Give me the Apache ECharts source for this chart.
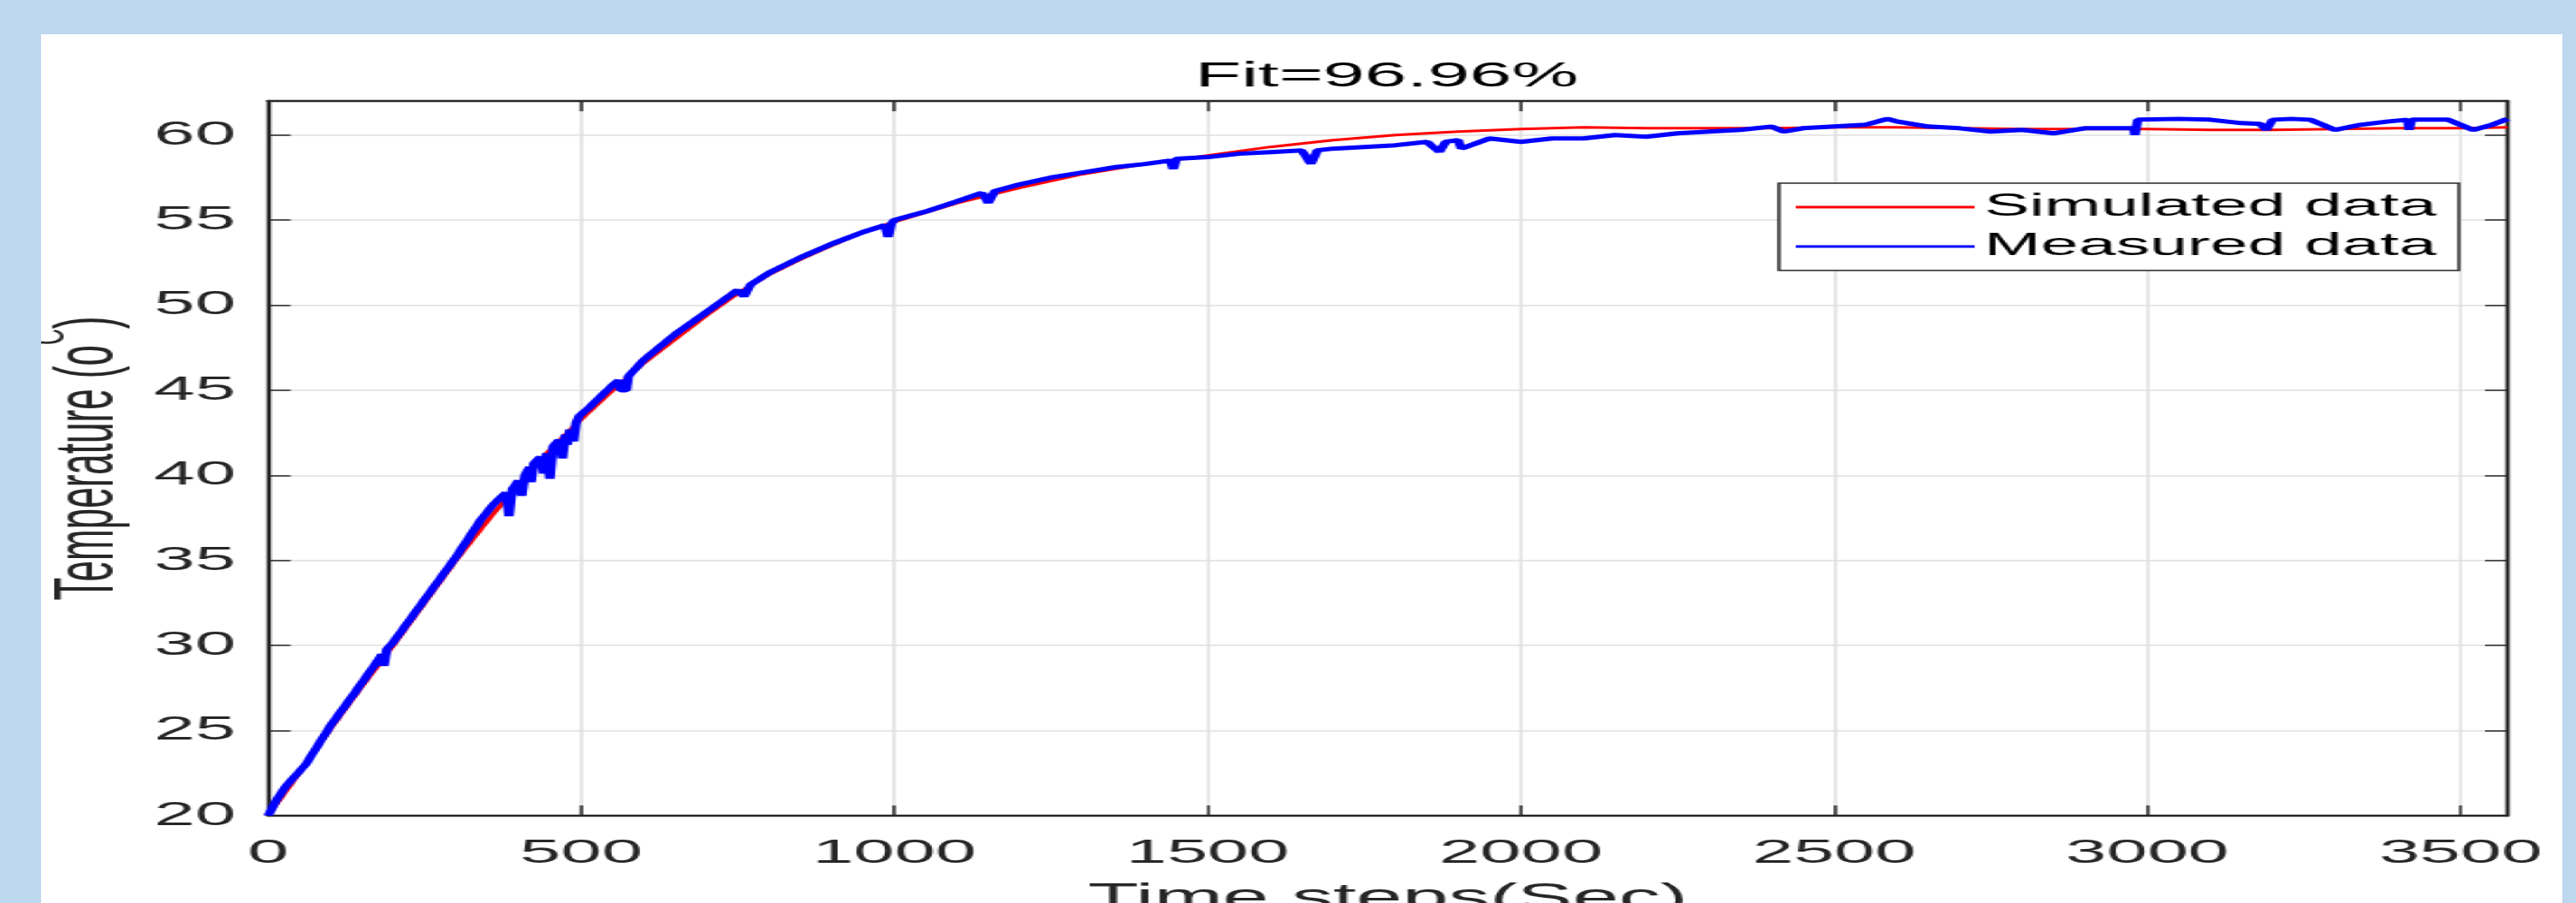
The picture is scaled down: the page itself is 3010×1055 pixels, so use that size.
<!DOCTYPE html>
<html>
<head>
<meta charset="utf-8">
<title>Fit=96.96%</title>
<script src="https://cdn.jsdelivr.net/npm/echarts@6.0.0/dist/echarts.min.js"></script>
<style>
  html, body { margin: 0; padding: 0; width: 3010px; height: 1055px; overflow: hidden; background: #bdd7ee; }
  /* the original figure is stretched sideways, so draw narrow and scale the box */
  #chart { position: absolute; left: 48px; top: 40px; width: 1339px; height: 1015px;
           transform: scaleX(2.2); transform-origin: 0 0; background: #fff; }
</style>
</head>
<body>
<div id="chart"></div>
<script>
var simTime = [0, 50, 100, 150, 200, 250, 300, 350, 400, 450, 500, 550, 600, 650, 700, 750, 800, 850, 900, 950,
  1000, 1100, 1200, 1300, 1400, 1500, 1600, 1700, 1800, 1900, 2000, 2100, 2200, 2300, 2400, 2500,
  2600, 2700, 2800, 2900, 3000, 3100, 3200, 3300, 3400, 3500, 3575];
var simTemp = [20.0, 22.5, 25.1, 27.6, 30.0, 32.5, 35.0, 37.3, 39.5, 41.5, 43.3, 45.0, 46.6, 48.0, 49.4, 50.7, 51.8, 52.7, 53.5, 54.3,
  54.9, 56.0, 56.9, 57.7, 58.3, 58.8, 59.3, 59.7, 60.0, 60.2, 60.35, 60.45, 60.4, 60.4, 60.4, 60.45,
  60.45, 60.4, 60.35, 60.35, 60.35, 60.3, 60.3, 60.35, 60.4, 60.4, 60.45];

var measTime = [0, 15, 30, 60, 100, 140, 175, 182, 185, 190, 200, 250, 300, 340, 360, 380, 385, 390, 400, 405,
  410, 418, 420, 424, 435, 440, 445, 450, 455, 465, 470, 475, 478, 482, 486, 488, 492, 497, 510, 530,
  550, 560, 563, 572, 575, 600, 650, 700, 750, 760, 770, 800, 850, 900, 950, 985, 990, 995, 1000, 1050,
  1100, 1140, 1150, 1160, 1200, 1250, 1300, 1350, 1400, 1440, 1445, 1450, 1500, 1550, 1600, 1650, 1665, 1675, 1700, 1750,
  1800, 1850, 1870, 1880, 1900, 1905, 1950, 2000, 2050, 2100, 2150, 2200, 2250, 2300, 2350, 2400, 2420, 2450, 2500, 2550,
  2585, 2600, 2650, 2700, 2750, 2800, 2850, 2900, 2950, 2978, 2980, 2985, 3050, 3100, 3150, 3180, 3190, 3200, 3230, 3260,
  3300, 3340, 3385, 3415, 3418, 3422, 3480, 3520, 3550, 3575];
var measTemp = [20.0, 21.0, 21.8, 23.0, 25.3, 27.3, 29.1, 29.5, 28.8, 29.8, 30.2, 32.7, 35.2, 37.4, 38.3, 39.0, 37.6, 39.2, 39.7, 38.8,
  40.0, 40.5, 39.6, 40.7, 41.1, 40.1, 41.3, 39.8, 41.7, 42.1, 41.0, 42.4, 41.8, 42.7, 42.6, 42.0, 43.1, 43.5, 43.9, 44.6,
  45.3, 45.6, 45.0, 45.0, 45.8, 46.8, 48.3, 49.6, 50.9, 50.5, 51.2, 51.9, 52.8, 53.6, 54.3, 54.7, 54.0, 54.8, 55.0, 55.5,
  56.1, 56.6, 56.0, 56.7, 57.1, 57.5, 57.8, 58.1, 58.3, 58.5, 58.0, 58.6, 58.7, 58.9, 59.0, 59.1, 58.3, 59.1, 59.2, 59.3,
  59.4, 59.6, 59.0, 59.6, 59.7, 59.2, 59.8, 59.6, 59.8, 59.8, 60.0, 59.9, 60.1, 60.2, 60.3, 60.5, 60.2, 60.4, 60.5, 60.6,
  60.95, 60.8, 60.5, 60.4, 60.2, 60.3, 60.1, 60.4, 60.4, 60.4, 60.0, 60.9, 60.95, 60.9, 60.7, 60.65, 60.3, 60.9, 60.95, 60.9,
  60.3, 60.6, 60.8, 60.9, 60.3, 60.9, 60.9, 60.3, 60.6, 60.95];

var xTicks = [0, 500, 1000, 1500, 2000, 2500, 3000, 3500];
var yTicks = [20, 25, 30, 35, 40, 45, 50, 55, 60];

var font = 'Liberation Sans, Arial, Helvetica, sans-serif';
var ink = '#262626';

function pairs(xs, ys) {
  return xs.map(function (x, i) { return [x, ys[i]]; });
}

function boxAxis(extra) {
  var axis = {
    type: 'value',
    axisLine: { show: true, onZero: false, lineStyle: { color: ink, width: 2.4 } },
    axisTick: { show: true, inside: true, length: 12, lineStyle: { color: ink, width: 1.5 } },
    axisLabel: { show: false },
    splitLine: { show: false }
  };
  return Object.assign(axis, extra);
}

var chart = echarts.init(document.getElementById('chart'));

var option = {
  animation: false,
  backgroundColor: '#fff',
  title: {
    text: 'Fit=96.96%',
    left: 613,
    top: 30,
    padding: 0,
    textStyle: { fontFamily: font, fontSize: 40, fontWeight: 'normal', color: '#000' }
  },
  legend: {
    data: ['Simulated data', 'Measured data'],
    orient: 'vertical',
    left: 923,
    top: 174,
    icon: 'rect',
    itemWidth: 95,
    itemHeight: 3,
    itemGap: 6,
    padding: [8, 12, 8, 9],
    backgroundColor: '#fff',
    borderColor: ink,
    borderWidth: 1.5,
    textStyle: { fontFamily: font, fontSize: 36, color: '#000', lineHeight: 40 }
  },
  grid: { left: 120.5, right: 29, top: 78, bottom: 102, outerBoundsMode: 'none' },
  xAxis: [
    boxAxis({
      min: 0, max: 3575, interval: 500, position: 'bottom',
      axisLabel: {
        show: true, margin: 25, fontFamily: font, fontSize: 39, color: ink,
        formatter: function (v) { return xTicks.indexOf(v) >= 0 ? String(v) : ''; }
      },
      splitLine: { show: true, lineStyle: { color: '#dfdfdf', width: 1.5 } },
      name: 'Time steps(Sec)',
      nameLocation: 'middle',
      nameGap: 76,
      nameTextStyle: { fontFamily: font, fontSize: 44, color: ink }
    }),
    boxAxis({ min: 0, max: 3575, interval: 500, position: 'top' })
  ],
  yAxis: [
    boxAxis({
      min: 20, max: 62, interval: 5, position: 'left',
      axisLabel: {
        show: true, margin: 17, fontFamily: font, fontSize: 39, color: ink,
        formatter: function (v) { return yTicks.indexOf(v) >= 0 ? String(v) : ''; }
      },
      splitLine: { show: true, lineStyle: { color: '#dfdfdf', width: 1.5 } },
      name: '{b|Temperature (o}{sup|C}{b|)}',
      nameLocation: 'middle',
      nameGap: 73,
      nameTextStyle: {
        fontFamily: font, color: ink,
        rich: {
          b: { fontFamily: font, fontSize: 44, lineHeight: 44, color: ink, verticalAlign: 'bottom' },
          sup: { fontFamily: font, fontSize: 26, lineHeight: 26, color: ink, verticalAlign: 'bottom', padding: [0, 0, 30, 0] }
        }
      }
    }),
    boxAxis({ min: 20, max: 62, interval: 5, position: 'right' })
  ],
  series: [
    {
      name: 'Simulated data',
      type: 'line',
      symbol: 'none',
      data: pairs(simTime, simTemp),
      lineStyle: { color: '#ff0000', width: 3 },
      itemStyle: { color: '#ff0000' }
    },
    {
      name: 'Measured data',
      type: 'line',
      symbol: 'none',
      data: pairs(measTime, measTemp),
      lineStyle: { color: '#0000ff', width: 5 },
      itemStyle: { color: '#0000ff' }
    }
  ]
};

chart.setOption(option);
</script>
</body>
</html>
